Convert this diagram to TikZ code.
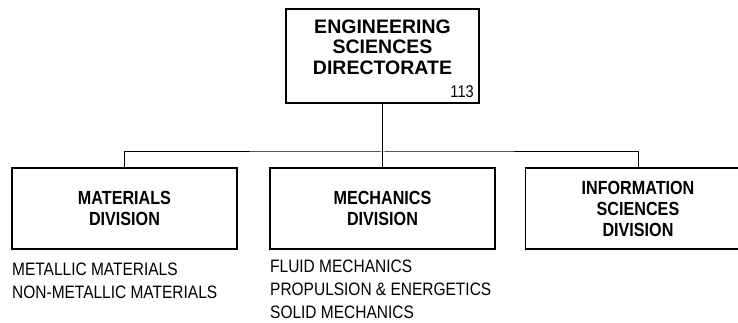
\documentclass[tikz,border=0pt]{standalone}
\usepackage{fontspec}
\setmainfont{Liberation Sans}
\newfontfamily\divfont[FakeStretch=0.85]{Liberation Sans Bold}
\newfontfamily\listfont[FakeStretch=0.86]{Liberation Sans}
\usepackage{tikz}
\usetikzlibrary{calc}

\begin{document}
\begin{tikzpicture}[x=1pt,y=-1pt,
  headbox/.style={draw,line width=1.6pt,minimum width=193pt,minimum height=94pt,inner sep=0pt},
  divbox/.style={draw,line width=1.6pt,minimum width=225pt,minimum height=81pt,inner sep=0pt,
    align=center,font=\fontsize{19}{21}\selectfont\divfont},
  branchlist/.style={anchor=north west,inner sep=0pt,align=left,font=\fontsize{18}{23}\selectfont\listfont},
  wire/.style={line width=1pt}]
  \useasboundingbox (0,0) rectangle (738,323);
                      % directorate at the top
                      \node[headbox](dir)at(382.5,56){};
                      \node[align=center,inner sep=0pt,font=\fontsize{19.5}{20.5}\selectfont\bfseries](dirtext)at(382.5,47){ENGINEERING\\SCIENCES\\DIRECTORATE};
                      \node[anchor=south east,inner sep=0pt,font=\fontsize{17}{17}\selectfont\listfont](code)at(474,98){113};
                      % the three divisions
                      \node[divbox](mat)at(124.5,208.5){MATERIALS\\DIVISION};
                      \node[divbox](mech)at(382.5,208.5){MECHANICS\\DIVISION};
                      \node[divbox](info)at(638,208.5){INFORMATION\\SCIENCES\\DIVISION};
                      \coordinate (bus) at (382.5,152);
                      \draw[wire] (dir.south) -- (mech.north);
                      \draw[wire] (mat.north) |- (bus) -| (info.north);
                      % branches below the boxes
                      \node[branchlist](matlist)at(12,263){METALLIC MATERIALS\\NON-METALLIC MATERIALS};
                      \node[branchlist](mechlist)at(270,260){FLUID MECHANICS\\PROPULSION \& ENERGETICS\\SOLID MECHANICS};
                  \end{tikzpicture}
\end{document}
